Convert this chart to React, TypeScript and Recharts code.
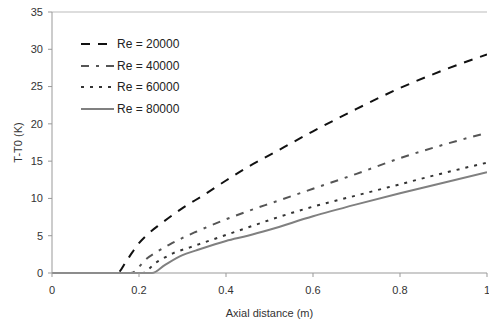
import React from 'react';
import { LineChart, Line, XAxis, YAxis, ReferenceLine } from 'recharts';

// axial distance (m) / temperature rise (K), one pair of arrays per Re
const re20000X = [0, 0.1, 0.15, 0.17, 0.185, 0.2, 0.22, 0.25, 0.3, 0.35, 0.4, 0.45, 0.5, 0.6, 0.7, 0.8, 0.9, 1.0];
const re20000T = [0, 0, 0, 1.5, 2.8, 4.0, 5.2, 6.6, 8.7, 10.5, 12.4, 14.2, 15.8, 19.0, 22.0, 24.8, 27.2, 29.3];

const re40000X = [0, 0.1, 0.18, 0.19, 0.2, 0.21, 0.24, 0.27, 0.3, 0.33, 0.4, 0.47, 0.5, 0.6, 0.7, 0.8, 0.9, 1.0];
const re40000T = [0, 0, 0, 0.2, 0.8, 1.5, 2.8, 3.8, 4.7, 5.5, 7.2, 8.7, 9.3, 11.3, 13.3, 15.4, 17.2, 18.8];

const re60000X = [0, 0.1, 0.21, 0.22, 0.237, 0.26, 0.28, 0.31, 0.33, 0.4, 0.47, 0.5, 0.6, 0.7, 0.8, 0.9, 1.0];
const re60000T = [0, 0, 0, 0.4, 1.3, 2.1, 2.7, 3.3, 3.7, 5.1, 6.5, 7.1, 8.9, 10.4, 11.9, 13.4, 14.8];

const re80000X = [0, 0.1, 0.23, 0.26, 0.3, 0.33, 0.4, 0.45, 0.5, 0.6, 0.7, 0.8, 0.9, 1.0];
const re80000T = [0, 0, 0, 1.1, 2.4, 3.0, 4.3, 5.0, 5.8, 7.6, 9.2, 10.7, 12.1, 13.5];

const xTicks = [0, 0.2, 0.4, 0.6, 0.8, 1];
const yTicks = [0, 5, 10, 15, 20, 25, 30, 35];

const toPoints = (xs: number[], ts: number[]) => xs.map((x, i) => ({ x, t: ts[i] }));

const series = [
  { key: 're20000', label: 'Re = 20000', data: toPoints(re20000X, re20000T), color: '#111', dash: '9 8' },
  { key: 're40000', label: 'Re = 40000', data: toPoints(re40000X, re40000T), color: '#555', dash: '8 7 3 7' },
  { key: 're60000', label: 'Re = 60000', data: toPoints(re60000X, re60000T), color: '#333', dash: '3 6' },
  { key: 're80000', label: 'Re = 80000', data: toPoints(re80000X, re80000T), color: '#808080', dash: undefined },
];

const font = '"Liberation Sans", Arial, sans-serif';

const App: React.FC = () => {
  return (
    <div style={{ position: 'absolute', left: 0, top: 0, width: 489, height: 323, background: '#fff', fontFamily: font }}>
      <LineChart width={489} height={323} margin={{ top: 12, right: 2, bottom: 0, left: 0 }}>
        <XAxis
          dataKey="x"
          type="number"
          domain={[0, 1]}
          ticks={xTicks}
          tickFormatter={(v: number) => String(v)}
          height={50}
          stroke="#999"
          tickSize={4}
          tickMargin={9}
          tick={{ fontSize: 11, fill: '#333', fontFamily: font }}
          interval={0}
          allowDataOverflow
          label={{ value: 'Axial distance (m)', position: 'insideBottom', offset: 6, fontSize: 11, fill: '#333', fontFamily: font }}
        />
        <YAxis
          type="number"
          domain={[0, 35]}
          ticks={yTicks}
          width={52}
          stroke="#999"
          tickSize={4}
          tickMargin={5}
          tick={{ fontSize: 11, fill: '#333', fontFamily: font }}
          interval={0}
          label={{
            value: 'T-T0 (K)',
            angle: -90,
            position: 'insideLeft',
            offset: 18,
            fontSize: 11,
            fill: '#333',
            fontFamily: font,
            style: { textAnchor: 'middle' },
          }}
        />
        <ReferenceLine y={35} stroke="#bbb" />
        {series.map(s => (
          <Line
            key={s.key}
            data={s.data}
            dataKey="t"
            name={s.label}
            type="monotone"
            stroke={s.color}
            strokeWidth={2}
            strokeDasharray={s.dash}
            dot={false}
            activeDot={false}
            isAnimationActive={false}
          />
        ))}
      </LineChart>

      {/* legend in the upper-left of the plot, like the original */}
      <div style={{ position: 'absolute', left: 81, top: 33 }}>
        {series.map(s => (
          <div key={s.key} style={{ display: 'flex', alignItems: 'center', height: 21.7 }}>
            <svg width="33" height="6">
              <line x1="0" y1="3" x2="33" y2="3" stroke={s.color} strokeWidth="2" strokeDasharray={s.dash} />
            </svg>
            <span style={{ fontSize: 12, color: '#222', marginLeft: 3 }}>{s.label}</span>
          </div>
        ))}
      </div>
    </div>
  );
};

export default App;
